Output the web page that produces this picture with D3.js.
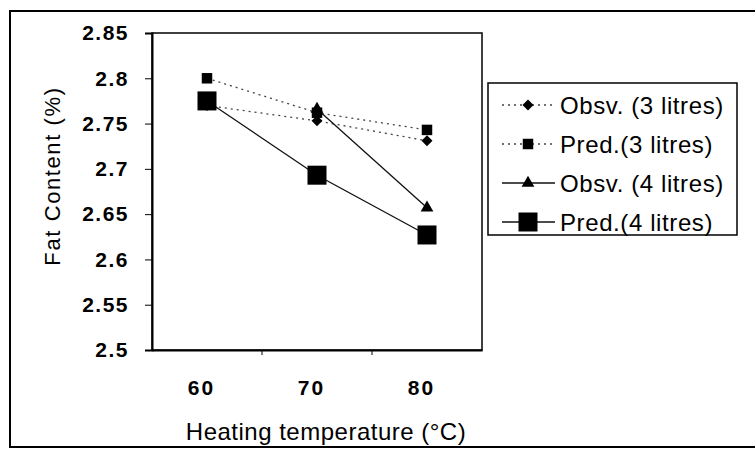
<!DOCTYPE html>
<html>
<head>
<meta charset="utf-8">
<script src="https://cdn.jsdelivr.net/npm/d3@7"></script>
<style>
  body { margin: 0; background: #fff; }
  text { font-family: "Liberation Sans", Arial, sans-serif; fill: #000; }
</style>
</head>
<body>
<script>
// data
const temps = ["60", "70", "80"];
const obsv3 = [2.77, 2.753, 2.731];
const pred3 = [2.8, 2.762, 2.743];
const obsv4 = [null, 2.766, 2.657]; // hidden at 60
const pred4 = [2.775, 2.693, 2.627];
const yTicks = [2.5, 2.55, 2.6, 2.65, 2.7, 2.75, 2.8, 2.85];
const seriesNames = ["Obsv. (3 litres)", "Pred.(3 litres)", "Obsv. (4 litres)", "Pred.(4 litres)"];

const w = 755;
const h = 449;
const plot = { left: 152, right: 482, top: 33, bottom: 350 };

const series = [
  { name: seriesNames[0], values: obsv3, symbol: d3.symbolSquare, size: 60, rotate: 45, dash: "2,4", stroke: "#444" },
  { name: seriesNames[1], values: pred3, symbol: d3.symbolSquare, size: 110, rotate: 0, dash: "2,4", stroke: "#444" },
  { name: seriesNames[2], values: obsv4, symbol: d3.symbolTriangle, size: 70, rotate: 0, dash: null, stroke: "#111" },
  { name: seriesNames[3], values: pred4, symbol: d3.symbolSquare, size: 361, rotate: 0, dash: null, stroke: "#111" }
];

const svg = d3.select("body").append("svg").attr("width", w).attr("height", h);

// outer frame
svg.append("rect")
  .attr("x", 10).attr("y", 11)
  .attr("width", 748).attr("height", 436)
  .attr("fill", "none").attr("stroke", "#000").attr("stroke-width", 2);

// scales
const xScale = d3.scalePoint().domain(temps).range([plot.left, plot.right]).padding(0.5);
const yScale = d3.scaleLinear().domain([2.5, 2.85]).range([plot.bottom, plot.top]);

// plot border
svg.append("rect")
  .attr("x", plot.left).attr("y", plot.top)
  .attr("width", plot.right - plot.left).attr("height", plot.bottom - plot.top)
  .attr("fill", "none").attr("stroke", "#000").attr("stroke-width", 1.5);

// y axis
const yAxis = d3.axisLeft(yScale).tickValues(yTicks).tickSize(7).tickPadding(16).tickFormat(d3.format(""));
svg.append("g")
  .attr("class", "y axis")
  .attr("transform", `translate(${plot.left},0)`)
  .call(yAxis)
  .call((g) => g.select(".domain").attr("stroke-width", 2))
  .call((g) => g.selectAll("text")
    .attr("font-size", 21).attr("font-weight", "bold")
    .attr("letter-spacing", 1.5).attr("font-family", "Liberation Sans, Arial, sans-serif"));

// x axis: ticks between categories like the original
const step = xScale.step();
const xAxis = d3.axisBottom(xScale).tickSize(0).tickPadding(30);
const xg = svg.append("g")
  .attr("class", "x axis")
  .attr("transform", `translate(0,${plot.bottom})`)
  .call(xAxis)
  .call((g) => g.select(".domain").attr("stroke-width", 2))
  .call((g) => g.selectAll("text")
    .attr("dx", -6)
    .attr("font-size", 21).attr("font-weight", "bold")
    .attr("letter-spacing", 2).attr("font-family", "Liberation Sans, Arial, sans-serif"));
xg.selectAll(".sep")
  .data(temps.slice(1))
  .enter()
  .append("line")
  .attr("x1", (d) => xScale(d) - step / 2)
  .attr("x2", (d) => xScale(d) - step / 2)
  .attr("y1", 0).attr("y2", 5)
  .attr("stroke", "#000");

// axis titles
svg.append("text")
  .attr("x", 326).attr("y", 440)
  .attr("text-anchor", "middle")
  .attr("font-size", 24).attr("letter-spacing", 0.5)
  .text("Heating temperature (°C)");

svg.append("text")
  .attr("transform", "translate(60,176) rotate(-90)")
  .attr("text-anchor", "middle")
  .attr("font-size", 22).attr("letter-spacing", 1.6)
  .text("Fat Content (%)");

// lines
const line = d3.line()
  .defined((d) => d != null)
  .x((d, i) => xScale(temps[i]))
  .y((d) => yScale(d));

svg.append("g")
  .attr("id", "lines")
  .selectAll("path")
  .data(series)
  .enter()
  .append("path")
  .attr("d", (s) => line(s.values))
  .attr("fill", "none")
  .attr("stroke", (s) => s.stroke)
  .attr("stroke-width", 1.3)
  .attr("stroke-dasharray", (s) => s.dash);

// markers
series.forEach((s) => {
  svg.append("g")
    .selectAll("path")
    .data(s.values.map((v, i) => ({ v, t: temps[i] })).filter((d) => d.v != null))
    .enter()
    .append("path")
    .attr("d", d3.symbol().type(s.symbol).size(s.size))
    .attr("transform", (d) => `translate(${xScale(d.t)},${yScale(d.v)}) rotate(${s.rotate})`)
    .attr("fill", "#000");
});

// legend
const legend = svg.append("g").attr("transform", "translate(488,83)");
legend.append("rect")
  .attr("width", 249).attr("height", 152)
  .attr("fill", "#fff").attr("stroke", "#000").attr("stroke-width", 1.5);

const item = legend.selectAll(".item")
  .data(series)
  .enter()
  .append("g")
  .attr("class", "item")
  .attr("transform", (d, i) => `translate(0,${22 + i * 39})`);

item.append("line")
  .attr("x1", 14).attr("x2", 67)
  .attr("stroke", (d) => d.stroke)
  .attr("stroke-width", 1.3)
  .attr("stroke-dasharray", (d) => d.dash);

item.append("path")
  .attr("d", (d) => d3.symbol().type(d.symbol).size(d.size)())
  .attr("transform", (d) => `translate(40,0) rotate(${d.rotate})`)
  .attr("fill", "#000");

item.append("text")
  .attr("x", 72)
  .attr("dy", "0.36em")
  .attr("font-size", 24)
  .attr("letter-spacing", 0.6)
  .text((d) => d.name);
</script>
</body>
</html>
